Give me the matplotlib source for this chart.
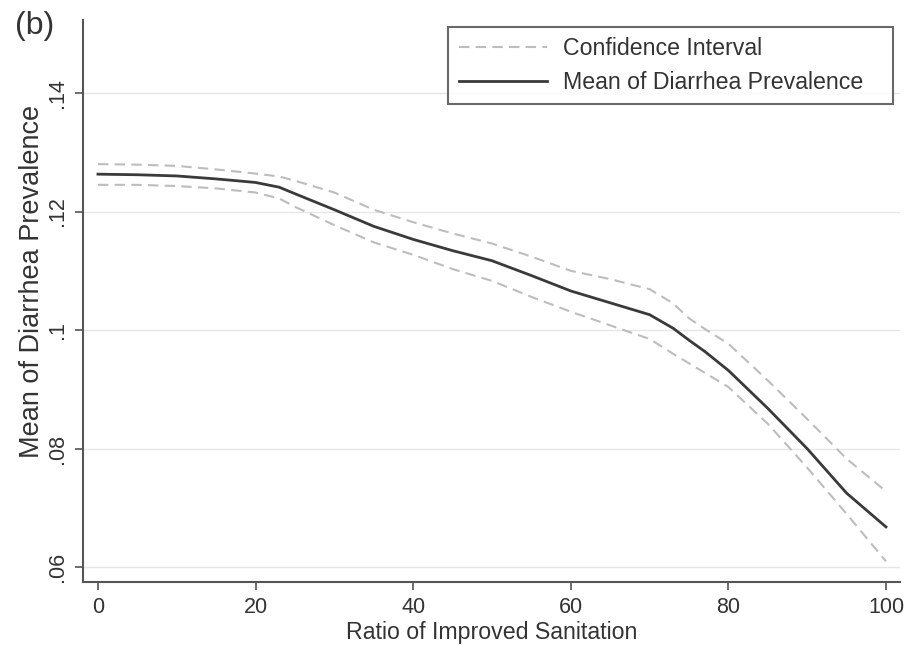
import matplotlib
matplotlib.use("Agg")
from matplotlib import pyplot as plt

# values
ratio = [0, 5, 10, 15, 20, 23, 25, 30, 35, 40, 45, 50, 55, 60, 65, 70, 73, 75, 77, 80, 85, 90, 95, 100]
mean_prev = [0.1263, 0.1262, 0.1260, 0.1255, 0.1249, 0.1241, 0.1230, 0.1203, 0.1175, 0.1153, 0.1134, 0.1117,
             0.1092, 0.1066, 0.1046, 0.1026, 0.1003, 0.0983, 0.0964, 0.0932, 0.0868, 0.0800, 0.0725, 0.0668]
ci_upper = [0.1280, 0.1279, 0.1277, 0.1271, 0.1264, 0.1259, 0.1252, 0.1232, 0.1203, 0.1182, 0.1163, 0.1146,
            0.1124, 0.1100, 0.1086, 0.1069, 0.1045, 0.1020, 0.1002, 0.0977, 0.0915, 0.0850, 0.0783, 0.0728]
ci_lower = [0.1245, 0.1245, 0.1243, 0.1239, 0.1232, 0.1222, 0.1208, 0.1177, 0.1148, 0.1127, 0.1103, 0.1083,
            0.1056, 0.1031, 0.1008, 0.0985, 0.0960, 0.0944, 0.0928, 0.0904, 0.0842, 0.0768, 0.0690, 0.0610]
yticks = [0.06, 0.08, 0.10, 0.12, 0.14]
ytick_labels = [".06", ".08", ".1", ".12", ".14"]
xticks = [0, 20, 40, 60, 80, 100]

plt.rcParams['font.family'] = ['Liberation Sans', 'DejaVu Sans']

fig = plt.figure(figsize=(9.11, 6.46), dpi=100)
ax = fig.add_axes([0.0911, 0.099, 0.897, 0.870])

ci_style = dict(color='#bdbdbd', lw=1.5, dashes=(5, 3))
ax.plot(ratio, ci_upper, label='Confidence Interval', **ci_style)
ax.plot(ratio, ci_lower, **ci_style)
ax.plot(ratio, mean_prev, color='#3a3a3a', lw=2.0, label='Mean of Diarrhea Prevalence')

ax.set_xlim(-1.9, 101.8)
ax.set_ylim(0.0575, 0.1523)
ax.set_yticks(yticks)
ax.set_yticklabels(ytick_labels, rotation=90, va='center')
ax.set_xticks(xticks)
ax.yaxis.grid(True, color='#e6e6e6', lw=1.0)
ax.set_axisbelow(True)

for s in ['top', 'right']:
    ax.spines[s].set_visible(False)
for s in ['left', 'bottom']:
    ax.spines[s].set_color('#555555')
    ax.spines[s].set_linewidth(1.5)
ax.tick_params(axis='both', length=6, width=1.2, color='#555555', labelsize=15.5, labelcolor='#333333', pad=5)

ax.set_xlabel('Ratio of Improved Sanitation', fontsize=16.7, color='#333333', va='center')
ax.xaxis.set_label_coords(0.5, -0.089)
ax.set_ylabel('Mean of Diarrhea Prevalence', fontsize=19.5, color='#333333', va='center')
ax.yaxis.set_label_coords(-0.063, 0.534)

# legend box stretched to the width seen in the reference
leg = ax.legend(loc='upper left', bbox_to_anchor=(0.447, 0.85, 0.544, 0.138), mode='expand',
                borderaxespad=0, fontsize=16.7, handlelength=3.8, handletextpad=0.7,
                fancybox=False, frameon=True, borderpad=0.45, labelspacing=0.45)
leg.get_frame().set_edgecolor('#444444')
leg.get_frame().set_linewidth(1.5)
for t in leg.get_texts():
    t.set_color('#333333')

fig.text(0.016, 0.960, '(b)', fontsize=23, color='#333333', va='center')

fig.savefig('out.png', dpi=100)
plt.close(fig)
